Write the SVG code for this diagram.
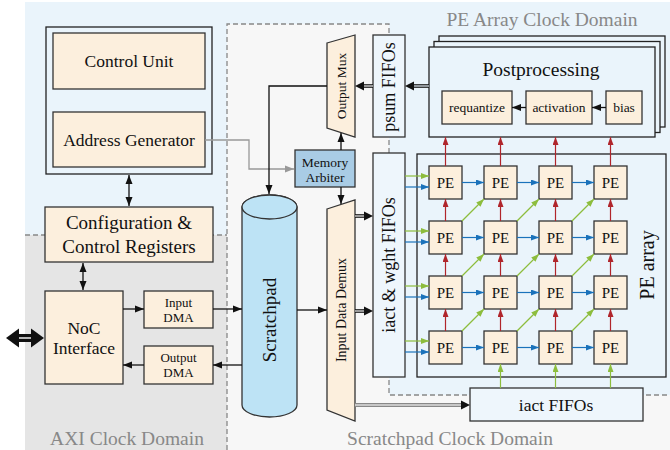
<svg xmlns="http://www.w3.org/2000/svg" width="670" height="450" viewBox="0 0 670 450" font-family="'Liberation Serif', 'Times New Roman', Times, serif">
<defs>
<style>
text{font-family:'Liberation Serif','Times New Roman',Times,serif;fill:#111;text-anchor:middle;dominant-baseline:central}
.box{fill:#fcefdd;stroke:#333;stroke-width:1.3}
.lb{fill:#eef6fc;stroke:#333;stroke-width:1.3}
.pb{fill:#eaf4fb;stroke:#222;stroke-width:1.3}
.dom{fill:#888;font-size:19.5px}
.dash{stroke:#888;stroke-width:1.3;stroke-dasharray:5 3;fill:none}
.k{stroke:#111;stroke-width:1.3;fill:none;marker-end:url(#aK)}
.kk{stroke:#111;stroke-width:1.3;fill:none;marker-end:url(#aK);marker-start:url(#aK)}
.gr{stroke:#999;stroke-width:1.3;fill:none;marker-end:url(#aGy)}
.r{stroke:#b0252b;stroke-width:1.2;fill:none;marker-end:url(#aR)}
.b{stroke:#1a72bb;stroke-width:1.2;fill:none;marker-end:url(#aB)}
.g{stroke:#8dbd3d;stroke-width:1.2;fill:none;marker-end:url(#aG)}
.pe{font-size:15px}
.sm{font-size:13.5px}
</style>
<marker id="aK" markerUnits="userSpaceOnUse" markerWidth="10" markerHeight="8" refX="9" refY="4" orient="auto-start-reverse"><path d="M0,0.5 L9,4 L0,7.5 z" fill="#111"/></marker>
<marker id="aGy" markerUnits="userSpaceOnUse" markerWidth="10" markerHeight="8" refX="9" refY="4" orient="auto"><path d="M0,0.5 L9,4 L0,7.5 z" fill="#999"/></marker>
<marker id="aR" markerUnits="userSpaceOnUse" markerWidth="8" markerHeight="6" refX="8" refY="3" orient="auto"><path d="M0,0 L8,3 L0,6 z" fill="#b0252b"/></marker>
<marker id="aB" markerUnits="userSpaceOnUse" markerWidth="8" markerHeight="6" refX="8" refY="3" orient="auto"><path d="M0,0 L8,3 L0,6 z" fill="#1a72bb"/></marker>
<marker id="aG" markerUnits="userSpaceOnUse" markerWidth="8" markerHeight="6" refX="8" refY="3" orient="auto"><path d="M0,0 L8,3 L0,6 z" fill="#8dbd3d"/></marker>
</defs>

<g id="background">
<rect x="0" y="0" width="670" height="450" fill="#fff"/>
<rect x="25" y="2" width="645" height="448" fill="#eaf4fb"/>
<rect x="25" y="235" width="202" height="215" fill="#e5e5e5"/>
<polygon points="227,24 389,24 389,395 670,395 670,450 227,450" fill="#f7f7f7"/>
<path class="dash" d="M25,235 H227 M227,450 V24 H389 V395 H670"/>
<text class="dom" x="127" y="438">AXI Clock Domain</text>
<text class="dom" x="450" y="438">Scratchpad Clock Domain</text>
<text class="dom" x="542" y="19">PE Array Clock Domain</text>
</g>

<g id="controller">
<rect x="46" y="27" width="166" height="147" fill="#eaf4fb" stroke="#222" stroke-width="1.3"/>
</g>
<g id="control-unit">
<rect class="box" x="53" y="33" width="152" height="56"/>
<text x="129" y="61" font-size="17.5">Control Unit</text>
</g>
<g id="address-generator">
<rect class="box" x="53" y="112" width="152" height="55"/>
<text x="129" y="140" font-size="17.5">Address Generator</text>
</g>
<g id="config-registers">
<rect class="box" x="45" y="207" width="168" height="55"/>
<text x="129" y="222" font-size="19">Configuration &amp;</text>
<text x="129" y="246" font-size="19">Control Registers</text>
</g>
<g id="noc-interface">
<rect class="box" x="45" y="291" width="78" height="93"/>
<text x="84" y="328" font-size="17.5">NoC</text>
<text x="84" y="348" font-size="17.5">Interface</text>
</g>
<g id="input-dma">
<rect class="box" x="144" y="291" width="69" height="37"/>
<text x="178.5" y="302.5" font-size="13">Input</text>
<text x="178.5" y="317.5" font-size="13">DMA</text>
</g>
<g id="output-dma">
<rect class="box" x="144" y="346" width="69" height="38"/>
<text x="178.5" y="357.5" font-size="13">Output</text>
<text x="178.5" y="372.5" font-size="13">DMA</text>
</g>
<g id="scratchpad">
<path d="M242,207 A27.5,12 0 0 1 297,207 V405 A27.5,12 0 0 1 242,405 Z" fill="#bde3f5" stroke="#333" stroke-width="1.3"/>
<ellipse cx="269.5" cy="207" rx="27.5" ry="12" fill="#bde3f5" stroke="#333" stroke-width="1.3"/>
<text transform="translate(269,320) rotate(-90)" font-size="19">Scratchpad</text>
</g>
<g id="output-mux">
<polygon class="box" points="327,43 355,35 355,137 327,128"/>
<text transform="translate(341,86) rotate(-90)" font-size="13.5">Output Mux</text>
</g>
<g id="input-demux">
<polygon class="box" points="327,209 355,200 355,421 327,410"/>
<text transform="translate(341,310) rotate(-90)" font-size="14">Input Data Demux</text>
</g>
<g id="memory-arbiter">
<rect x="295" y="150" width="60" height="37" fill="#a9cce5" stroke="#333" stroke-width="1.3"/>
<text x="325" y="162" font-size="13.5">Memory</text>
<text x="325" y="177" font-size="13.5">Arbiter</text>
</g>
<g id="psum-fifos">
<rect class="lb" x="373" y="35" width="32" height="102"/>
<text transform="translate(389,87) rotate(-90)" font-size="18">psum FIFOs</text>
</g>
<g id="iact-wght-fifos">
<rect class="lb" x="373" y="153" width="32" height="224"/>
<text transform="translate(389,265) rotate(-90)" font-size="18">iact &amp; wght FIFOs</text>
</g>
<g id="postprocessing">
<rect class="pb" x="439" y="36" width="226" height="91"/>
<rect class="pb" x="434" y="41.5" width="226" height="91"/>
<rect class="pb" x="429" y="47" width="226" height="90"/>
<text x="541" y="69" font-size="19.5">Postprocessing</text>
</g>
<g id="requantize">
<rect class="box" x="442" y="91" width="70" height="33"/>
<text class="sm" x="477" y="107.5">requantize</text>
</g>
<g id="activation">
<rect class="box" x="526" y="91" width="66" height="33"/>
<text class="sm" x="559" y="107.5">activation</text>
</g>
<g id="bias">
<rect class="box" x="606" y="91" width="36" height="33"/>
<text class="sm" x="624" y="107.5">bias</text>
</g>
<g id="pe-array">
<rect class="pb" x="417" y="154" width="249" height="223"/>
<text transform="translate(647,265) rotate(-90)" font-size="20">PE array</text>
</g>
<g id="pe-1-1"><rect class="box" x="429" y="166" width="33" height="33"/><text class="pe" x="445.5" y="182.5">PE</text></g>
<g id="pe-1-2"><rect class="box" x="484" y="166" width="33" height="33"/><text class="pe" x="500.5" y="182.5">PE</text></g>
<g id="pe-1-3"><rect class="box" x="539" y="166" width="33" height="33"/><text class="pe" x="555.5" y="182.5">PE</text></g>
<g id="pe-1-4"><rect class="box" x="594" y="166" width="33" height="33"/><text class="pe" x="610.5" y="182.5">PE</text></g>
<g id="pe-2-1"><rect class="box" x="429" y="221" width="33" height="33"/><text class="pe" x="445.5" y="237.5">PE</text></g>
<g id="pe-2-2"><rect class="box" x="484" y="221" width="33" height="33"/><text class="pe" x="500.5" y="237.5">PE</text></g>
<g id="pe-2-3"><rect class="box" x="539" y="221" width="33" height="33"/><text class="pe" x="555.5" y="237.5">PE</text></g>
<g id="pe-2-4"><rect class="box" x="594" y="221" width="33" height="33"/><text class="pe" x="610.5" y="237.5">PE</text></g>
<g id="pe-3-1"><rect class="box" x="429" y="276" width="33" height="33"/><text class="pe" x="445.5" y="292.5">PE</text></g>
<g id="pe-3-2"><rect class="box" x="484" y="276" width="33" height="33"/><text class="pe" x="500.5" y="292.5">PE</text></g>
<g id="pe-3-3"><rect class="box" x="539" y="276" width="33" height="33"/><text class="pe" x="555.5" y="292.5">PE</text></g>
<g id="pe-3-4"><rect class="box" x="594" y="276" width="33" height="33"/><text class="pe" x="610.5" y="292.5">PE</text></g>
<g id="pe-4-1"><rect class="box" x="429" y="331" width="33" height="33"/><text class="pe" x="445.5" y="347.5">PE</text></g>
<g id="pe-4-2"><rect class="box" x="484" y="331" width="33" height="33"/><text class="pe" x="500.5" y="347.5">PE</text></g>
<g id="pe-4-3"><rect class="box" x="539" y="331" width="33" height="33"/><text class="pe" x="555.5" y="347.5">PE</text></g>
<g id="pe-4-4"><rect class="box" x="594" y="331" width="33" height="33"/><text class="pe" x="610.5" y="347.5">PE</text></g>
<g id="iact-fifos">
<rect class="lb" x="470" y="388" width="173" height="33"/>
<text x="556" y="405" font-size="17.5">iact FIFOs</text>
</g>

<g id="connectors">
<line class="kk" x1="129" y1="175" x2="129" y2="206"/>
<line class="kk" x1="83" y1="263" x2="83" y2="290"/>
<line class="k" x1="123" y1="309" x2="144" y2="309"/>
<line class="k" x1="213" y1="309" x2="242" y2="309"/>
<line class="k" x1="242" y1="365" x2="213" y2="365"/>
<line class="k" x1="144" y1="365" x2="123" y2="365"/>
<g id="noc-port">
<rect x="16" y="334" width="18" height="8" fill="#111"/>
<line x1="16" y1="338" x2="34" y2="338" stroke="#fff" stroke-width="1.4"/>
<polygon points="6,338 19,328.5 19,347.5" fill="#111"/>
<polygon points="44,338 31,328.5 31,347.5" fill="#111"/>
</g>
<polyline class="gr" points="205,140 249,140 249,169 294,169"/>
<polyline class="k" points="327,86 269,86 269,194"/>
<line class="k" x1="341" y1="150" x2="341" y2="133"/>
<line class="k" x1="341" y1="187" x2="341" y2="204"/>
<line class="k" x1="297" y1="310" x2="327" y2="310"/>
<line class="k" x1="606" y1="107.5" x2="592" y2="107.5"/>
<line class="k" x1="526" y1="107.5" x2="512" y2="107.5"/>
<g id="double-arrows">
<line x1="355" y1="216" x2="365" y2="216" stroke="#111" stroke-width="3.6"/>
<line x1="355" y1="216" x2="365" y2="216" stroke="#f7f7f7" stroke-width="1.2"/>
<polygon points="364,211.5 373,216 364,220.5" fill="#111"/>
<line x1="355" y1="311" x2="365" y2="311" stroke="#111" stroke-width="3.6"/>
<line x1="355" y1="311" x2="365" y2="311" stroke="#f7f7f7" stroke-width="1.2"/>
<polygon points="364,306.5 373,311 364,315.5" fill="#111"/>
<line x1="429" y1="86" x2="413" y2="86" stroke="#111" stroke-width="3.6"/>
<line x1="429" y1="86" x2="413" y2="86" stroke="#eaf4fb" stroke-width="1.2"/>
<polygon points="414,81.5 405,86 414,90.5" fill="#111"/>
<line x1="373" y1="86" x2="363" y2="86" stroke="#111" stroke-width="3.6"/>
<line x1="373" y1="86" x2="363" y2="86" stroke="#f7f7f7" stroke-width="1.2"/>
<polygon points="364,81.5 355,86 364,90.5" fill="#111"/>
<line x1="355" y1="405" x2="462" y2="405" stroke="#888" stroke-width="4"/>
<line x1="355" y1="405" x2="462" y2="405" stroke="#ddd" stroke-width="1.4"/>
<polygon points="461,400.5 470,405 461,409.5" fill="#111"/>
</g>
<g id="pe-inputs">
<line class="g" x1="405" y1="176" x2="429" y2="176"/>
<line class="b" x1="405" y1="187" x2="429" y2="187"/>
<line class="g" x1="405" y1="231" x2="429" y2="231"/>
<line class="b" x1="405" y1="242" x2="429" y2="242"/>
<line class="g" x1="405" y1="286" x2="429" y2="286"/>
<line class="b" x1="405" y1="297" x2="429" y2="297"/>
<line class="g" x1="405" y1="341" x2="429" y2="341"/>
<line class="b" x1="405" y1="352" x2="429" y2="352"/>
</g>
<g id="pe-horizontal">
<line class="b" x1="462" y1="182.5" x2="484" y2="182.5"/>
<line class="b" x1="517" y1="182.5" x2="539" y2="182.5"/>
<line class="b" x1="572" y1="182.5" x2="594" y2="182.5"/>
<line class="b" x1="462" y1="237.5" x2="484" y2="237.5"/>
<line class="b" x1="517" y1="237.5" x2="539" y2="237.5"/>
<line class="b" x1="572" y1="237.5" x2="594" y2="237.5"/>
<line class="b" x1="462" y1="292.5" x2="484" y2="292.5"/>
<line class="b" x1="517" y1="292.5" x2="539" y2="292.5"/>
<line class="b" x1="572" y1="292.5" x2="594" y2="292.5"/>
<line class="b" x1="462" y1="347.5" x2="484" y2="347.5"/>
<line class="b" x1="517" y1="347.5" x2="539" y2="347.5"/>
<line class="b" x1="572" y1="347.5" x2="594" y2="347.5"/>
</g>
<g id="pe-vertical">
<line class="r" x1="445.5" y1="166" x2="445.5" y2="137"/>
<line class="r" x1="500.5" y1="166" x2="500.5" y2="137"/>
<line class="r" x1="555.5" y1="166" x2="555.5" y2="137"/>
<line class="r" x1="610.5" y1="166" x2="610.5" y2="137"/>
<line class="r" x1="445.5" y1="221" x2="445.5" y2="199"/>
<line class="r" x1="500.5" y1="221" x2="500.5" y2="199"/>
<line class="r" x1="555.5" y1="221" x2="555.5" y2="199"/>
<line class="r" x1="610.5" y1="221" x2="610.5" y2="199"/>
<line class="r" x1="445.5" y1="276" x2="445.5" y2="254"/>
<line class="r" x1="500.5" y1="276" x2="500.5" y2="254"/>
<line class="r" x1="555.5" y1="276" x2="555.5" y2="254"/>
<line class="r" x1="610.5" y1="276" x2="610.5" y2="254"/>
<line class="r" x1="445.5" y1="331" x2="445.5" y2="309"/>
<line class="r" x1="500.5" y1="331" x2="500.5" y2="309"/>
<line class="r" x1="555.5" y1="331" x2="555.5" y2="309"/>
<line class="r" x1="610.5" y1="331" x2="610.5" y2="309"/>
</g>
<g id="pe-diagonal">
<line class="g" x1="462" y1="221" x2="484" y2="199"/>
<line class="g" x1="517" y1="221" x2="539" y2="199"/>
<line class="g" x1="572" y1="221" x2="594" y2="199"/>
<line class="g" x1="462" y1="276" x2="484" y2="254"/>
<line class="g" x1="517" y1="276" x2="539" y2="254"/>
<line class="g" x1="572" y1="276" x2="594" y2="254"/>
<line class="g" x1="462" y1="331" x2="484" y2="309"/>
<line class="g" x1="517" y1="331" x2="539" y2="309"/>
<line class="g" x1="572" y1="331" x2="594" y2="309"/>
</g>
<g id="iact-to-pe">
<line class="g" x1="500.5" y1="388" x2="500.5" y2="364"/>
<line class="g" x1="555.5" y1="388" x2="555.5" y2="364"/>
<line class="g" x1="610.5" y1="388" x2="610.5" y2="364"/>
</g>
</g>
</svg>
